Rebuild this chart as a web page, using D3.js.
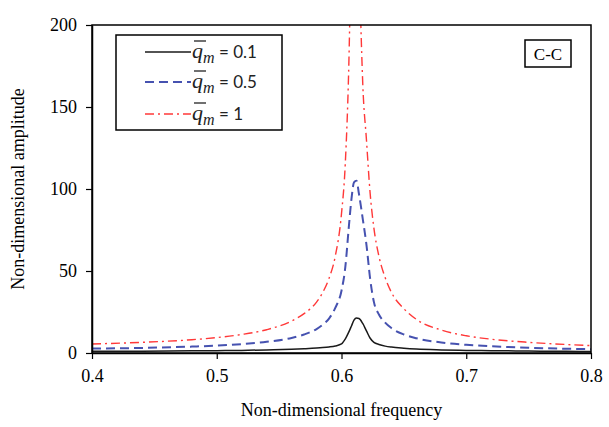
<!DOCTYPE html>
<html>
<head>
<meta charset="utf-8">
<script src="https://cdn.jsdelivr.net/npm/d3@7"></script>
<style>
  body { margin: 0; background: #fff; }
  svg { display: block; }
</style>
</head>
<body>
<div id="chart"></div>
<script>
// frequency grid (shared by the three curves)
var freq = [0.40, 0.44, 0.48, 0.50, 0.52, 0.54, 0.56, 0.57, 0.58, 0.585, 0.59, 0.595, 0.60, 0.603, 0.606, 0.608,
            0.610, 0.612, 0.614, 0.617, 0.620, 0.623, 0.626, 0.63, 0.635, 0.64, 0.65, 0.66, 0.68, 0.70, 0.72, 0.75, 0.78, 0.80];
// amplitude, q_m = 0.1
var amp01 = [1.0, 1.1, 1.3, 1.4, 1.6, 1.9, 2.3, 2.6, 3.0, 3.3, 3.7, 4.3, 5.5, 8.5, 13, 16.5,
             20, 21.3, 21, 18, 13.5, 9, 6.5, 5.2, 4.2, 3.6, 2.9, 2.4, 1.9, 1.6, 1.4, 1.2, 1.0, 0.9];
// amplitude, q_m = 0.5
var amp05 = [2.7, 3.1, 3.9, 4.5, 5.4, 6.8, 9.2, 11.3, 14.6, 17.3, 21, 27.5, 38, 52, 78, 94,
             104, 105, 97, 82, 66, 45, 31, 23.5, 18.5, 15.2, 11.3, 9, 6.4, 5, 4.1, 3.2, 2.6, 2.3];
// amplitude, q_m = 1 (peak runs off the top of the axis)
var amp1 = [5.5, 6.5, 8.1, 9.4, 11.3, 14.2, 19.5, 24, 31, 37, 45.5, 59, 85, 115, 180, 260,
            330, 340, 250, 165, 130, 97, 76, 59, 46, 37, 27, 20.5, 14, 10.5, 8.4, 6.5, 5.2, 4.5];

var xTicks = [0.4, 0.5, 0.6, 0.7, 0.8];
var yTicks = [0, 50, 100, 150, 200];
var legendValues = ['0.1', '0.5', '1'];

var width = 609, height = 427;
var margin = {top: 25, right: 18, bottom: 74, left: 92};
var w = width - margin.left - margin.right;
var h = height - margin.top - margin.bottom;

var series = [
  {values: amp01, color: '#1a1a1a', dash: null, sw: 1.5},
  {values: amp05, color: '#4652b0', dash: '9,5', sw: 2},
  {values: amp1, color: '#ff3838', dash: '9,4,2,4', sw: 1.4}
];

var svg = d3.select('#chart').append('svg')
  .attr('width', width)
  .attr('height', height);

var g = svg.append('g')
  .attr('transform', 'translate(' + margin.left + ',' + margin.top + ')');

var x = d3.scaleLinear().domain([0.4, 0.8]).range([0, w]);
var y = d3.scaleLinear().domain([0, 200]).range([h, 0]);

g.append('clipPath').attr('id', 'plotClip')
  .append('rect').attr('width', w).attr('height', h);

var line = d3.line()
  .x(function(d) { return x(d[0]); })
  .y(function(d) { return y(d[1]); })
  .curve(d3.curveMonotoneX);

series.forEach(function(s) {
  g.append('path')
    .datum(freq.map(function(f, i) { return [f, s.values[i]]; }))
    .attr('clip-path', 'url(#plotClip)')
    .attr('fill', 'none')
    .attr('stroke', s.color)
    .attr('stroke-width', s.sw)
    .attr('stroke-dasharray', s.dash)
    .attr('d', line);
});

// axes
var xAxis = g.append('g')
  .attr('transform', 'translate(0,' + h + ')')
  .call(d3.axisBottom(x).tickValues(xTicks).tickSize(6).tickSizeOuter(0).tickPadding(10).tickFormat(d3.format('.1f')));
var yAxis = g.append('g')
  .call(d3.axisLeft(y).tickValues(yTicks).tickSize(6).tickSizeOuter(0).tickPadding(9));

[xAxis, yAxis].forEach(function(a) {
  a.select('.domain').attr('stroke', '#000').attr('stroke-width', 1.5);
  a.selectAll('.tick line').attr('stroke', '#000').attr('stroke-width', 1.2);
  a.selectAll('.tick text')
    .attr('fill', '#000')
    .style('font-family', '"Liberation Serif", "Times New Roman", serif')
    .style('font-size', '18px');
});

// frame top / right
g.append('rect')
  .attr('width', w).attr('height', h)
  .attr('fill', 'none')
  .attr('stroke', '#000')
  .attr('stroke-width', 1.5);

// axis titles
svg.append('text')
  .attr('x', margin.left + w / 2)
  .attr('y', 416)
  .attr('text-anchor', 'middle')
  .style('font-family', '"Liberation Serif", "Times New Roman", serif')
  .style('font-size', '18px')
  .text('Non-dimensional frequency');

svg.append('text')
  .attr('transform', 'translate(24,' + (margin.top + h / 2) + ') rotate(-90)')
  .attr('text-anchor', 'middle')
  .style('font-family', '"Liberation Serif", "Times New Roman", serif')
  .style('font-size', '18px')
  .text('Non-dimensional amplitude');

// legend
var legend = svg.append('g').attr('transform', 'translate(116,35)');
legend.append('rect')
  .attr('width', 166).attr('height', 95)
  .attr('fill', '#fff')
  .attr('stroke', '#000')
  .attr('stroke-width', 1.5);

var rowY = [17, 47, 79];
series.forEach(function(s, i) {
  var row = legend.append('g').attr('transform', 'translate(0,' + rowY[i] + ')');
  row.append('line')
    .attr('x1', 29).attr('x2', 75)
    .attr('stroke', s.color)
    .attr('stroke-width', s.sw)
    .attr('stroke-dasharray', s.dash);
  var t = row.append('text')
    .attr('x', 76).attr('y', 6)
    .style('font-family', 'Lato, "Open Sans", sans-serif')
    .style('font-size', '17px')
    .attr('fill', '#222');
  t.append('tspan')
    .style('font-family', '"Liberation Serif", "Times New Roman", serif')
    .style('font-style', 'italic')
    .style('font-size', '22px')
    .text('q');
  t.append('tspan')
    .attr('dy', 5)
    .style('font-family', '"Liberation Serif", "Times New Roman", serif')
    .style('font-style', 'italic')
    .style('font-size', '16px')
    .text('m');
  t.append('tspan')
    .attr('dy', -5)
    .text(' = ' + legendValues[i]);
  // bar over the q
  row.append('line')
    .attr('x1', 78).attr('x2', 90)
    .attr('y1', -11).attr('y2', -11)
    .attr('stroke', '#222')
    .attr('stroke-width', 1.3);
});

// C-C label box
var cc = svg.append('g').attr('transform', 'translate(525,40)');
cc.append('rect')
  .attr('width', 46).attr('height', 27)
  .attr('fill', '#fff')
  .attr('stroke', '#000')
  .attr('stroke-width', 1.5);
cc.append('text')
  .attr('x', 23).attr('y', 19.5)
  .attr('text-anchor', 'middle')
  .style('font-family', '"Liberation Serif", "Times New Roman", serif')
  .style('font-size', '17px')
  .text('C-C');
</script>
</body>
</html>
